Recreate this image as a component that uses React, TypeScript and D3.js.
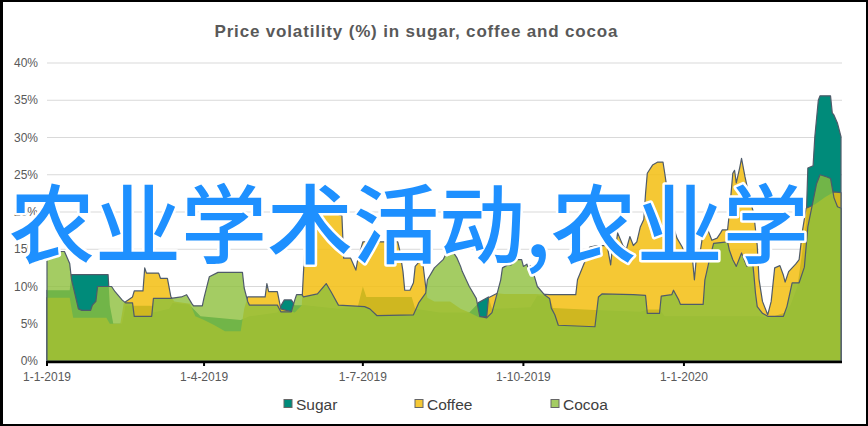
import React from "react";
import * as d3 from "d3";

type Point = [string, number];

// volatility in %
const sugar: Point[] = [
  ["2019-01-01", 9.5], ["2019-01-14", 9.5], ["2019-01-15", 11.6], ["2019-02-05", 11.6],
  ["2019-02-06", 7.5], ["2019-02-08", 5.0], ["2019-02-13", 5.0], ["2019-02-15", 7.4],
  ["2019-03-02", 7.4], ["2019-03-03", 6.5], ["2019-03-12", 7.0], ["2019-03-14", 7.8],
  ["2019-03-23", 7.6], ["2019-03-25", 7.2], ["2019-03-30", 6.0], ["2019-04-22", 5.5],
  ["2019-04-27", 6.0], ["2019-05-13", 6.5], ["2019-05-15", 7.4], ["2019-05-17", 8.2],
  ["2019-05-21", 8.2], ["2019-05-23", 7.5], ["2019-05-29", 7.5], ["2019-06-17", 7.0],
  ["2019-06-28", 7.2], ["2019-07-01", 10.0], ["2019-07-03", 8.6], ["2019-07-29", 8.6],
  ["2019-07-31", 7.0], ["2019-08-14", 6.5], ["2019-08-31", 6.5], ["2019-09-04", 7.5],
  ["2019-09-05", 7.8], ["2019-09-11", 8.6], ["2019-09-13", 7.0], ["2019-10-05", 7.2],
  ["2019-10-09", 8.8], ["2019-10-16", 8.5], ["2019-10-18", 7.1], ["2019-11-14", 6.8],
  ["2019-12-07", 6.6], ["2019-12-11", 6.9], ["2019-12-18", 6.9], ["2019-12-21", 6.0],
  ["2020-01-10", 6.0], ["2020-02-13", 6.0], ["2020-02-19", 5.8], ["2020-02-28", 6.5],
  ["2020-03-02", 7.5], ["2020-03-06", 10.0], ["2020-03-09", 15.0], ["2020-03-11", 18.5],
  ["2020-03-12", 25.9], ["2020-03-15", 26.2], ["2020-03-16", 30.1], ["2020-03-18", 35.0],
  ["2020-03-19", 35.6], ["2020-03-25", 35.6], ["2020-03-26", 33.3], ["2020-03-27", 33.0],
  ["2020-03-29", 31.9], ["2020-03-31", 30.1],
];

const coffee: Point[] = [
  ["2019-01-01", 8.5], ["2019-01-14", 8.5], ["2019-01-16", 5.8], ["2019-02-04", 5.8],
  ["2019-02-06", 5.0], ["2019-02-12", 5.0], ["2019-02-14", 7.8], ["2019-02-19", 8.6],
  ["2019-02-20", 9.4], ["2019-02-25", 9.4], ["2019-02-26", 12.5], ["2019-02-27", 11.8],
  ["2019-03-06", 11.8], ["2019-03-07", 11.1], ["2019-03-11", 11.1], ["2019-03-13", 8.6],
  ["2019-03-15", 8.0], ["2019-03-24", 7.7], ["2019-03-27", 6.0], ["2019-04-01", 5.5],
  ["2019-04-07", 4.8], ["2019-04-13", 4.0], ["2019-04-22", 4.0], ["2019-04-24", 7.0],
  ["2019-04-26", 8.6], ["2019-05-06", 8.6], ["2019-05-07", 10.4], ["2019-05-08", 9.3],
  ["2019-05-13", 9.3], ["2019-05-15", 7.0], ["2019-05-23", 6.5], ["2019-05-27", 7.5],
  ["2019-05-28", 12.0], ["2019-05-30", 19.8], ["2019-06-05", 19.9], ["2019-06-14", 19.9],
  ["2019-06-19", 19.5], ["2019-06-20", 13.8], ["2019-06-24", 13.8], ["2019-06-27", 12.2],
  ["2019-06-28", 13.5], ["2019-07-01", 16.0], ["2019-07-21", 16.0], ["2019-07-22", 15.0],
  ["2019-07-24", 12.0], ["2019-07-25", 9.5], ["2019-07-28", 9.5], ["2019-07-30", 10.5],
  ["2019-07-31", 12.7], ["2019-08-03", 13.5], ["2019-08-04", 13.8], ["2019-08-06", 10.0],
  ["2019-08-07", 8.5], ["2019-08-11", 8.0], ["2019-08-20", 8.0], ["2019-08-26", 7.0],
  ["2019-08-31", 6.5], ["2019-09-06", 5.8], ["2019-09-10", 6.0], ["2019-09-11", 8.5],
  ["2019-09-16", 9.1], ["2019-09-20", 9.0], ["2019-10-08", 9.0], ["2019-10-16", 8.9],
  ["2019-10-31", 8.9], ["2019-11-01", 10.9], ["2019-11-06", 13.8], ["2019-11-08", 15.3],
  ["2019-11-12", 15.5], ["2019-11-18", 15.5], ["2019-11-20", 12.9], ["2019-11-21", 15.2],
  ["2019-11-23", 15.5], ["2019-11-24", 17.2], ["2019-11-27", 15.5], ["2019-11-29", 15.0],
  ["2019-12-01", 16.7], ["2019-12-03", 15.5], ["2019-12-05", 16.0], ["2019-12-07", 18.0],
  ["2019-12-09", 19.0], ["2019-12-10", 22.5], ["2019-12-11", 25.2], ["2019-12-14", 26.3],
  ["2019-12-17", 26.7], ["2019-12-20", 26.7], ["2019-12-21", 25.2], ["2019-12-23", 22.0],
  ["2019-12-26", 18.0], ["2019-12-28", 16.5], ["2019-12-31", 15.3], ["2020-01-03", 13.6],
  ["2020-01-06", 13.4], ["2020-01-07", 10.9], ["2020-01-08", 13.6], ["2020-01-10", 14.2],
  ["2020-01-12", 17.2], ["2020-01-14", 18.0], ["2020-01-17", 16.2], ["2020-01-20", 16.5],
  ["2020-01-22", 17.2], ["2020-01-23", 17.6], ["2020-01-26", 17.6], ["2020-01-27", 19.8],
  ["2020-01-29", 25.2], ["2020-01-30", 25.6], ["2020-01-31", 23.9], ["2020-02-02", 26.0],
  ["2020-02-03", 27.2], ["2020-02-05", 24.7], ["2020-02-08", 21.5], ["2020-02-10", 19.8],
  ["2020-02-12", 15.5], ["2020-02-13", 11.0], ["2020-02-15", 8.0], ["2020-02-18", 6.2],
  ["2020-02-20", 8.0], ["2020-02-22", 12.5], ["2020-02-25", 12.8], ["2020-02-27", 11.5],
  ["2020-02-28", 10.6], ["2020-03-01", 12.0], ["2020-03-05", 13.0], ["2020-03-07", 13.6],
  ["2020-03-09", 17.6], ["2020-03-11", 20.5], ["2020-03-16", 21.0], ["2020-03-22", 22.0],
  ["2020-03-27", 22.7], ["2020-03-31", 22.6],
];

const cocoa: Point[] = [
  ["2019-01-01", 14.7], ["2019-01-11", 14.7], ["2019-01-14", 13.1], ["2019-01-15", 11.0],
  ["2019-01-18", 8.0], ["2019-01-19", 7.0], ["2019-01-21", 6.8], ["2019-01-26", 6.8],
  ["2019-01-27", 7.5], ["2019-01-29", 8.0], ["2019-01-30", 10.0], ["2019-02-07", 10.0],
  ["2019-02-09", 9.3], ["2019-02-13", 8.2], ["2019-02-15", 7.8], ["2019-02-19", 7.8],
  ["2019-02-20", 6.0], ["2019-03-02", 6.0], ["2019-03-03", 8.4], ["2019-03-13", 8.4],
  ["2019-03-19", 8.6], ["2019-03-22", 8.9], ["2019-03-25", 7.7], ["2019-03-26", 7.4],
  ["2019-03-31", 7.4], ["2019-04-01", 8.5], ["2019-04-04", 11.3], ["2019-04-09", 11.9],
  ["2019-04-23", 11.9], ["2019-04-24", 9.8], ["2019-04-26", 8.0], ["2019-04-27", 7.5],
  ["2019-05-13", 7.5], ["2019-05-15", 6.6], ["2019-05-21", 6.6], ["2019-05-23", 8.2],
  ["2019-05-24", 8.9], ["2019-05-27", 8.9], ["2019-05-28", 8.6], ["2019-06-05", 9.0],
  ["2019-06-10", 10.4], ["2019-06-13", 9.2], ["2019-06-17", 7.5], ["2019-07-02", 7.3],
  ["2019-07-05", 7.0], ["2019-07-09", 6.1], ["2019-07-30", 6.2], ["2019-08-02", 7.8],
  ["2019-08-06", 9.1], ["2019-08-07", 10.9], ["2019-08-11", 12.5], ["2019-08-16", 13.6],
  ["2019-08-19", 15.0], ["2019-08-21", 14.9], ["2019-08-24", 13.8], ["2019-08-26", 12.7],
  ["2019-08-27", 12.0], ["2019-08-31", 10.0], ["2019-09-04", 8.4], ["2019-09-06", 6.0],
  ["2019-09-10", 5.8], ["2019-09-13", 6.5], ["2019-09-16", 9.1], ["2019-09-18", 10.9],
  ["2019-09-19", 12.5], ["2019-09-22", 12.9], ["2019-09-24", 12.9], ["2019-09-26", 13.6],
  ["2019-09-30", 13.6], ["2019-10-01", 12.7], ["2019-10-03", 13.0], ["2019-10-04", 12.2],
  ["2019-10-05", 12.8], ["2019-10-07", 11.6], ["2019-10-09", 10.0], ["2019-10-13", 8.9],
  ["2019-10-16", 8.4], ["2019-10-17", 7.1], ["2019-10-19", 6.2], ["2019-10-21", 4.8],
  ["2019-11-11", 4.6], ["2019-11-13", 8.6], ["2019-11-15", 9.0], ["2019-12-03", 8.9],
  ["2019-12-10", 8.8], ["2019-12-11", 6.4], ["2019-12-18", 6.4], ["2019-12-19", 8.7],
  ["2019-12-25", 8.9], ["2019-12-26", 9.5], ["2019-12-29", 8.2], ["2019-12-30", 7.6],
  ["2020-01-12", 7.6], ["2020-01-13", 10.9], ["2020-01-16", 14.0], ["2020-01-18", 15.8],
  ["2020-01-26", 16.0], ["2020-01-27", 14.9], ["2020-01-29", 13.6], ["2020-01-31", 12.7],
  ["2020-02-03", 14.5], ["2020-02-06", 12.7], ["2020-02-09", 14.0], ["2020-02-10", 11.8],
  ["2020-02-11", 9.1], ["2020-02-12", 7.3], ["2020-02-15", 6.4], ["2020-02-18", 6.0],
  ["2020-02-27", 6.0], ["2020-02-29", 7.3], ["2020-03-03", 10.5], ["2020-03-07", 10.5],
  ["2020-03-10", 12.6], ["2020-03-12", 18.0], ["2020-03-17", 23.8], ["2020-03-19", 25.0],
  ["2020-03-23", 24.7], ["2020-03-25", 24.5], ["2020-03-27", 21.9], ["2020-03-29", 20.7],
  ["2020-03-31", 20.5],
];

const seriesNames = ["Sugar", "Coffee", "Cocoa"];
const yTickValues = [0, 5, 10, 15, 20, 25, 30, 35, 40];
const xTickDates = ["2019-01-01", "2019-04-01", "2019-07-01", "2019-10-01", "2020-01-01"];
const xTickLabels = ["1-1-2019", "1-4-2019", "1-7-2019", "1-10-2019", "1-1-2020"];
const title = "Price volatility (%) in sugar, coffee and cocoa";
const overlay = "农业学术活动,农业学";

const W = 868;
const H = 426;
const margin = { top: 63, right: 27, bottom: 65, left: 47 };

const fills = ["#008b7a", "#f3be10", "#8dbf3c"];
const fillOpacity = [1, 0.85, 0.8];
const outline = "#4f5b6a";
const font = "'Liberation Sans', Arial, sans-serif";

const parse = d3.timeParse("%Y-%m-%d");

export default function App() {
  const x = d3
    .scaleTime()
    .domain([parse("2019-01-01")!, parse("2020-03-31")!])
    .range([margin.left, W - margin.right]);
  const y = d3
    .scaleLinear()
    .domain([0, 40])
    .range([H - margin.bottom, margin.top]);

  const area = d3
    .area<Point>()
    .x((d) => x(parse(d[0])!))
    .y0(y(0))
    .y1((d) => y(d[1]));

  const series = [sugar, coffee, cocoa];
  const legendX = [284, 415, 551];

  // outlines of the lower series are hidden wherever a later series covers them
  const masks = series.map((_, i) => series.slice(i + 1));

  return (
    <div style={{ position: "absolute", left: 0, top: 0 }}>
      <svg width={W} height={H} style={{ display: "block", background: "#fff" }}>
        <defs>
          {masks.map((above, i) => (
            <mask key={i} id={`hide-${i}`} maskUnits="userSpaceOnUse" x={0} y={0} width={W} height={H}>
              <rect x={0} y={0} width={W} height={H} fill="#fff" />
              {above.map((data, j) => (
                <path key={j} d={area(data) || ""} fill="#000" />
              ))}
            </mask>
          ))}
        </defs>

        <text
          x={416}
          y={37}
          textAnchor="middle"
          fontFamily={font}
          fontWeight="bold"
          fontSize={17}
          fill="#595959"
          textLength={403}
          lengthAdjust="spacing"
        >
          {title}
        </text>

        {yTickValues.map((v) => (
          <g key={v}>
            {v > 0 && (
              <line
                x1={margin.left}
                x2={W - margin.right + 1}
                y1={y(v)}
                y2={y(v)}
                stroke="#d9d9d9"
                strokeWidth={1}
              />
            )}
            <text
              x={38}
              y={y(v) + 4}
              textAnchor="end"
              fontFamily={font}
              fontSize={12}
              fill="#595959"
            >
              {v}%
            </text>
          </g>
        ))}

        {series.map((data, i) => (
          <g key={seriesNames[i]}>
            <path d={area(data) || ""} fill={fills[i]} fillOpacity={fillOpacity[i]} />
            <path
              d={area(data) || ""}
              fill="none"
              stroke={outline}
              strokeWidth={1.2}
              strokeLinejoin="round"
              mask={i < series.length - 1 ? `url(#hide-${i})` : undefined}
            />
          </g>
        ))}

        <line
          x1={margin.left}
          x2={W - margin.right + 1}
          y1={y(0) + 1}
          y2={y(0) + 1}
          stroke="#000"
          strokeWidth={2.5}
        />
        {xTickDates.map((t, i) => {
          const tx = x(parse(t)!);
          return (
            <g key={t}>
              <line x1={tx} x2={tx} y1={y(0)} y2={y(0) + 5} stroke="#000" strokeWidth={2} />
              <text
                x={tx}
                y={381}
                textAnchor="middle"
                fontFamily={font}
                fontSize={12}
                fill="#595959"
              >
                {xTickLabels[i]}
              </text>
            </g>
          );
        })}

        {seriesNames.map((name, i) => (
          <g key={name}>
            <rect
              x={legendX[i]}
              y={399.5}
              width={8}
              height={8}
              fill={fills[i]}
              fillOpacity={fillOpacity[i]}
              stroke="#666"
              strokeWidth={1}
            />
            <text
              x={legendX[i] + 12}
              y={409.5}
              fontFamily={font}
              fontSize={15.5}
              fill="#404040"
            >
              {name}
            </text>
          </g>
        ))}

        <text
          x={9}
          y={257}
          fontFamily="'Noto Sans CJK SC', sans-serif"
          fontWeight={500}
          fontSize={86}
          fill="#1e90ff"
          stroke="#fff"
          strokeWidth={5}
          strokeLinejoin="round"
          paintOrder="stroke"
        >
          {overlay}
        </text>

        <rect x={1} y={1} width={W - 2} height={H - 2} fill="none" stroke="#000" strokeWidth={2} />
        <line x1={1.5} x2={1.5} y1={0} y2={H} stroke="#000" strokeWidth={3} />
      </svg>
    </div>
  );
}
